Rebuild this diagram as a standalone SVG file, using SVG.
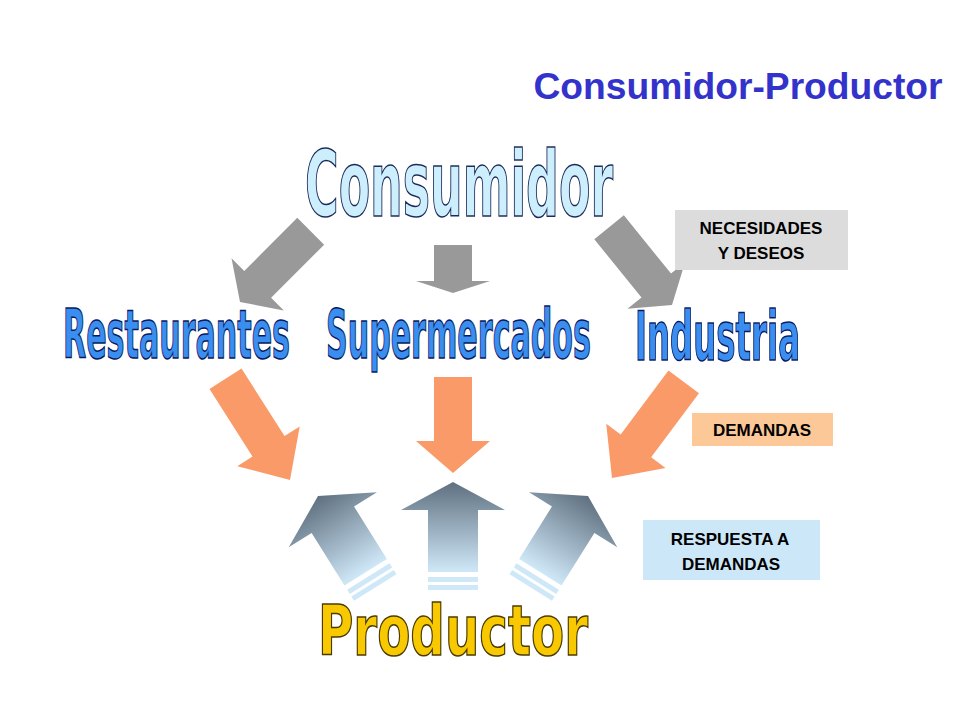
<svg xmlns="http://www.w3.org/2000/svg" width="960" height="720" viewBox="0 0 960 720">
<defs>
<linearGradient id="bg" x1="0" y1="0" x2="0" y2="1"><stop offset="0" stop-color="#5f7080"/><stop offset="1" stop-color="#cfe8f8"/></linearGradient>
<path id="gray" d="M0,0 L-37,-25 L-19,-25 L-19,-100 L19,-100 L19,-25 L37,-25 Z"/>
<path id="orng" d="M0,0 L-37,-40 L-19,-40 L-19,-120 L19,-120 L19,-40 L37,-40 Z"/>
<g id="blue"><path d="M0,0 L52,28 L25,28 L25,90 L-25,90 L-25,28 L-52,28 Z" fill="url(#bg)"/><rect x="-25" y="95" width="50" height="5" fill="#cfe8f8"/><rect x="-25" y="103" width="50" height="5" fill="#cfe8f8"/></g>
</defs>
<style>
.big{font-family:"DejaVu Sans Condensed","DejaVu Sans",sans-serif;font-weight:bold;stroke-width:1.5}
.lbl{font-family:"Liberation Sans",Arial,sans-serif;font-weight:bold;font-size:17px;fill:#000;text-anchor:middle}
.g{fill:#999}.o{fill:#fa9a68}
</style>
<rect width="960" height="720" fill="#fff"/>
<text x="738" y="99" text-anchor="middle" font-family="Liberation Sans,Arial,sans-serif" font-weight="bold" font-size="36" textLength="409" lengthAdjust="spacingAndGlyphs" fill="#3333cc">Consumidor-Productor</text>
<g id="connectors">
<use href="#gray" class="g" transform="translate(240,302) rotate(45)"/>
<use href="#gray" class="g" transform="translate(453,293) scale(1,0.48)"/>
<use href="#gray" class="g" transform="translate(672,305) rotate(-39)"/>
<use href="#orng" class="o" transform="translate(290,480) rotate(-32.5)"/>
<use href="#orng" class="o" transform="translate(453,473) scale(1,0.8)"/>
<use href="#orng" class="o" transform="translate(612,478) rotate(36.7)"/>
<use href="#blue" transform="translate(318,496) rotate(-32)"/>
<use href="#blue" transform="translate(453,482)"/>
<use href="#blue" transform="translate(588,496) rotate(32)"/>
</g>
<g id="n-consumidor"><text class="big" x="305" y="216" font-size="90" textLength="308" lengthAdjust="spacingAndGlyphs" fill="#cdeefc" stroke="#1a2a5a">Consumidor</text></g>
<g id="n-restaurantes"><text class="big" x="63" y="358" font-size="68" textLength="227" lengthAdjust="spacingAndGlyphs" fill="#3a8ef0" stroke="#0a1a60">Restaurantes</text></g>
<g id="n-supermercados"><text class="big" x="326" y="358" font-size="68" textLength="265" lengthAdjust="spacingAndGlyphs" fill="#3a8ef0" stroke="#0a1a60">Supermercados</text></g>
<g id="n-industria"><text class="big" x="635" y="360" font-size="68" textLength="165" lengthAdjust="spacingAndGlyphs" fill="#3a8ef0" stroke="#0a1a60">Industria</text></g>
<g id="n-productor"><text class="big" x="318" y="655" font-size="70" textLength="270" lengthAdjust="spacingAndGlyphs" fill="#f8c800" stroke="#4a3a00">Productor</text></g>
<g id="n-necesidades"><rect x="675" y="210" width="173" height="60" fill="#dcdcdc"/><text class="lbl" x="761" y="234">NECESIDADES</text><text class="lbl" x="761" y="259">Y DESEOS</text></g>
<g id="n-demandas"><rect x="692" y="413" width="141" height="33" fill="#fcc898"/><text class="lbl" x="762" y="436">DEMANDAS</text></g>
<g id="n-respuesta"><rect x="643" y="520" width="177" height="60" fill="#cce8f8"/><text class="lbl" x="730" y="545">RESPUESTA A </text><text class="lbl" x="731" y="570">DEMANDAS</text></g>
</svg>
